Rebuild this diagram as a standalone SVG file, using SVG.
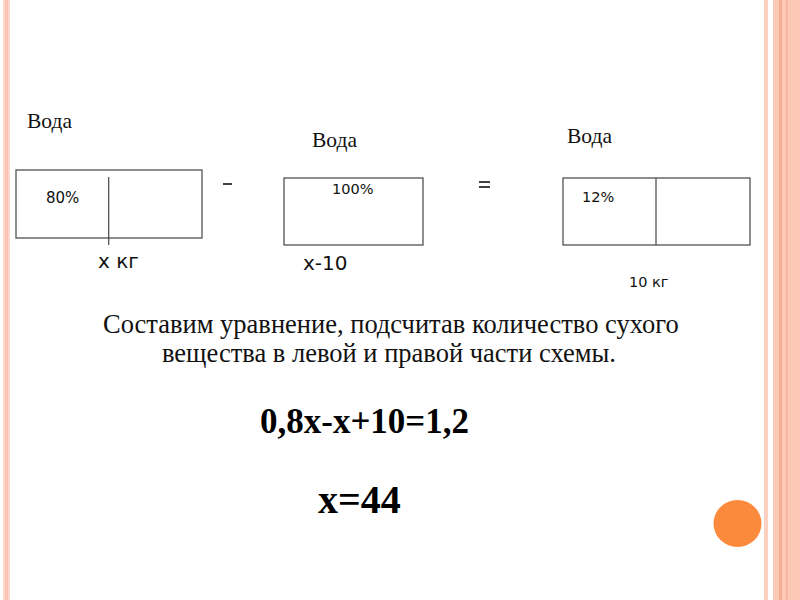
<svg xmlns="http://www.w3.org/2000/svg" width="800" height="600" viewBox="0 0 800 600">
<style>
.box{fill:none;stroke:#444;stroke-width:1.2}
.div{stroke:#444;stroke-width:1.2}
.serif{font-family:"Liberation Serif","Times New Roman",serif;fill:#111}
.sans{font-family:"DejaVu Sans","Liberation Sans",sans-serif;fill:#111}
.eq{font-family:"Liberation Serif","Times New Roman",serif;font-weight:bold;fill:#000}
</style>
<rect width="800" height="600" fill="#fff"/>
<g id="border">
<rect x="3" y="0" width="7" height="600" fill="#fdd8cb"/>
<rect x="5" y="0" width="3" height="600" fill="#f9c4b1"/>
<rect x="764" y="0" width="4" height="600" fill="#fcd0c0"/>
<rect x="773" y="0" width="27" height="600" fill="#fbc9b6"/>
<rect x="779" y="0" width="3" height="600" fill="#f6ad92"/>
<rect x="786" y="0" width="1.5" height="600" fill="#f6b39a"/>
<ellipse cx="737.5" cy="523.5" rx="24" ry="23.5" fill="#fb8a3c"/>
</g>
<g id="box1">
<text class="serif" x="27" y="128" font-size="21.5">Вода</text>
<rect class="box" x="16" y="170" width="186" height="68"/>
<line class="div" x1="108.7" y1="177" x2="108.7" y2="245"/>
<text class="sans" x="46" y="203" font-size="15">80%</text>
<text class="sans" x="98" y="268" font-size="20">x кг</text>
</g>
<g id="op-minus">
<line x1="223" y1="184" x2="232" y2="184" stroke="#000" stroke-width="1.5"/>
</g>
<g id="box2">
<text class="serif" x="312" y="147" font-size="21.5">Вода</text>
<rect class="box" x="284" y="178" width="139" height="67"/>
<text class="sans" x="332" y="194" font-size="14.5">100%</text>
<text class="sans" x="303" y="270" font-size="20">x-10</text>
</g>
<g id="op-equals">
<line x1="479" y1="182" x2="490" y2="182" stroke="#000" stroke-width="1.5"/>
<line x1="479" y1="187" x2="490" y2="187" stroke="#000" stroke-width="1.5"/>
</g>
<g id="box3">
<text class="serif" x="567" y="143" font-size="21.5">Вода</text>
<rect class="box" x="563" y="178" width="187" height="67"/>
<line class="div" x1="656" y1="178" x2="656" y2="245"/>
<text class="sans" x="582" y="202" font-size="14.5">12%</text>
<text class="sans" x="629" y="287" font-size="14.5">10 кг</text>
</g>
<g id="text">
<text class="serif" x="103" y="333" font-size="26.5">Составим уравнение, подсчитав количество сухого</text>
<text class="serif" x="162" y="362" font-size="26.5">вещества в левой и правой части схемы.</text>
<text class="eq" x="260" y="433" font-size="35">0,8x-x+10=1,2</text>
<text class="eq" x="318" y="513" font-size="40">x=44</text>
</g>
</svg>
